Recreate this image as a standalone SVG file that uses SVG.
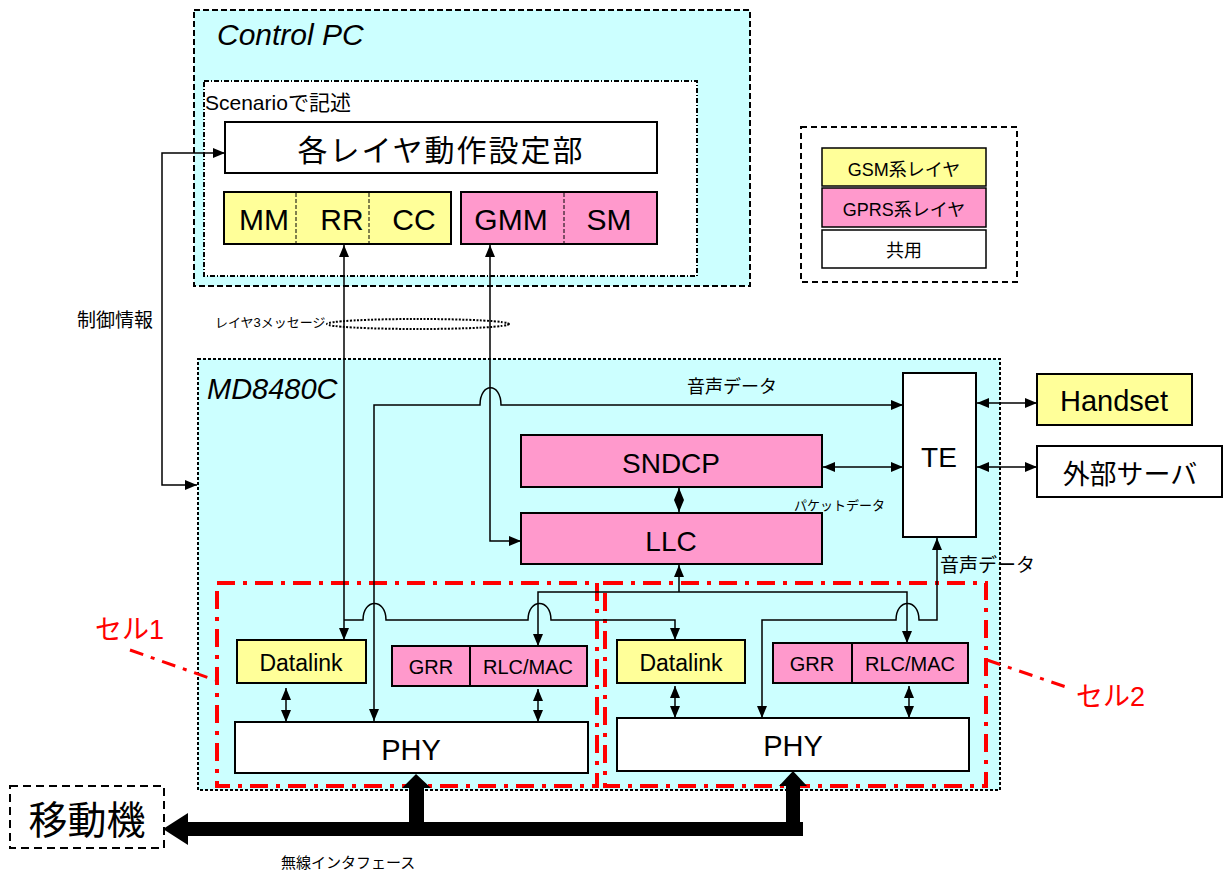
<svg xmlns="http://www.w3.org/2000/svg" width="1227" height="874" viewBox="0 0 1227 874">
<style>
text{font-family:"Liberation Sans","Noto Sans CJK JP",sans-serif;fill:#000}
.c{text-anchor:middle}
.box{stroke:#000;stroke-width:2}
.y{fill:#ffff99}.p{fill:#ff99cc}.w{fill:#fff}.cy{fill:#ccffff}
.ln{fill:none;stroke:#000;stroke-width:1.5}
.red{fill:none;stroke:#ff0000;stroke-width:4;stroke-dasharray:18 8 4 8}
.redl{fill:none;stroke:#ff0000;stroke-width:3;stroke-dasharray:14 8 4 8}
.div{stroke:#000;stroke-width:1;stroke-dasharray:4 2}
</style>
<defs>
<marker id="ah" viewBox="0 0 12 12" refX="12" refY="6" markerWidth="12" markerHeight="12" markerUnits="userSpaceOnUse" orient="auto-start-reverse"><path d="M0,1 L12,6 L0,11 z" fill="#000"/></marker>
</defs>
<rect width="1227" height="874" fill="#fff"/>

<g id="control-pc">
<rect x="194" y="10" width="556" height="276" class="cy" stroke="#000" stroke-width="2" stroke-dasharray="6 3"/>
<text x="217" y="45" font-size="30" font-style="italic">Control PC</text>
</g>
<g id="scenario">
<rect x="204" y="81" width="493" height="195" fill="#fff" stroke="#000" stroke-width="2" stroke-dasharray="5 2 1 2"/>
<text x="205" y="110" font-size="21">Scenarioで記述</text>
</g>
<g id="layer-setting">
<rect x="225" y="122" width="432" height="51" class="box w"/>
<text x="441" y="161" font-size="30" class="c" letter-spacing="2">各レイヤ動作設定部</text>
</g>
<g id="gsm-l3">
<rect x="224" y="192" width="227" height="52" class="box y"/>
<line x1="296" y1="193" x2="296" y2="243" class="div"/>
<line x1="369" y1="193" x2="369" y2="243" class="div"/>
<text x="264" y="230" font-size="30" class="c">MM</text>
<text x="342" y="230" font-size="30" class="c">RR</text>
<text x="414" y="230" font-size="30" class="c">CC</text>
</g>
<g id="gprs-l3">
<rect x="461" y="192" width="196" height="52" class="box p"/>
<line x1="564" y1="193" x2="564" y2="243" class="div"/>
<text x="511" y="230" font-size="30" class="c">GMM</text>
<text x="609" y="230" font-size="30" class="c">SM</text>
</g>

<g id="legend">
<rect x="801" y="127" width="216" height="155" fill="#fff" stroke="#000" stroke-width="2" stroke-dasharray="6 4"/>
<rect x="822" y="148" width="164" height="38" class="y" stroke="#000" stroke-width="1.5"/>
<text x="904" y="176" font-size="18" class="c">GSM系レイヤ</text>
<rect x="822" y="188" width="164" height="39" class="p" stroke="#000" stroke-width="1.5"/>
<text x="904" y="216" font-size="18" class="c">GPRS系レイヤ</text>
<rect x="822" y="230" width="164" height="38" class="w" stroke="#000" stroke-width="1.5"/>
<text x="904" y="257" font-size="18" class="c">共用</text>
</g>

<g id="md8480c">
<rect x="198" y="359" width="802" height="431" class="cy" stroke="#000" stroke-width="2" stroke-dasharray="3 2"/>
<text x="207" y="399" font-size="29" font-style="italic">MD8480C</text>
</g>

<g id="cell1">
<rect x="217" y="583" width="380" height="203" class="red"/>
<text x="95" y="639" font-size="27" style="fill:#ff0000">セル1</text>
<line x1="130" y1="650" x2="215" y2="680" class="redl"/>
</g>
<g id="cell2">
<rect x="605" y="583" width="381" height="203" class="red"/>
<text x="1076" y="706" font-size="27" style="fill:#ff0000">セル2</text>
<line x1="987" y1="660" x2="1072" y2="689" class="redl"/>
</g>

<g id="te">
<rect x="903" y="373" width="73" height="164" class="box w"/>
<text x="939" y="467" font-size="28" class="c">TE</text>
</g>
<g id="handset">
<rect x="1037" y="374" width="155" height="51" class="box y"/>
<text x="1114" y="411" font-size="29" class="c">Handset</text>
</g>
<g id="ext-server">
<rect x="1037" y="446" width="185" height="51" class="box w"/>
<text x="1130" y="484" font-size="27" class="c">外部サーバ</text>
</g>
<g id="sndcp">
<rect x="521" y="435" width="301" height="52" class="box p"/>
<text x="671" y="473" font-size="28" class="c">SNDCP</text>
</g>
<g id="llc">
<rect x="521" y="513" width="301" height="51" class="box p"/>
<text x="671" y="551" font-size="28" class="c">LLC</text>
</g>

<g id="datalink1">
<rect x="237" y="640" width="129" height="43" class="box y"/>
<text x="301" y="671" font-size="23" class="c">Datalink</text>
</g>
<g id="grr-rlc1">
<rect x="392" y="646" width="195" height="40" class="box p"/>
<line x1="470" y1="646" x2="470" y2="686" stroke="#000" stroke-width="2"/>
<text x="431" y="674" font-size="20" class="c">GRR</text>
<text x="528" y="674" font-size="20" class="c">RLC/MAC</text>
</g>
<g id="phy1">
<rect x="235" y="722" width="353" height="51" class="box w"/>
<text x="411" y="760" font-size="29" class="c">PHY</text>
</g>
<g id="datalink2">
<rect x="617" y="640" width="128" height="43" class="box y"/>
<text x="681" y="671" font-size="23" class="c">Datalink</text>
</g>
<g id="grr-rlc2">
<rect x="773" y="643" width="195" height="40" class="box p"/>
<line x1="852" y1="643" x2="852" y2="683" stroke="#000" stroke-width="2"/>
<text x="812" y="671" font-size="20" class="c">GRR</text>
<text x="910" y="671" font-size="20" class="c">RLC/MAC</text>
</g>
<g id="phy2">
<rect x="617" y="718" width="352" height="53" class="box w"/>
<text x="793" y="756" font-size="29" class="c">PHY</text>
</g>

<g id="mobile">
<rect x="10" y="786" width="154" height="62" fill="#fff" stroke="#000" stroke-width="2" stroke-dasharray="8 5"/>
<text x="87" y="834" font-size="39" class="c">移動機</text>
</g>

<g id="connectors">
<path class="ln" d="M225,153 H162 V485 H197" marker-start="url(#ah)" marker-end="url(#ah)"/>
<text x="77" y="327" font-size="19">制御情報</text>
<text x="215" y="327" font-size="13">レイヤ3メッセージ</text>
<ellipse cx="418" cy="324" rx="91" ry="5" fill="none" stroke="#000" stroke-width="2" stroke-dasharray="2 1.5"/>
<path class="ln" d="M344,245 V640" marker-start="url(#ah)" marker-end="url(#ah)"/>
<path class="ln" d="M490,245 V541 H521" marker-start="url(#ah)" marker-end="url(#ah)"/>
<path class="ln" d="M374,721 V405 H480 C480,382 501,382 501,405 H903" marker-start="url(#ah)" marker-end="url(#ah)"/>
<text x="687" y="393" font-size="18">音声データ</text>
<path class="ln" d="M823,467 H903" marker-start="url(#ah)" marker-end="url(#ah)"/>
<text x="794" y="510" font-size="13">パケットデータ</text>
<path class="ln" d="M977,403 H1037" marker-start="url(#ah)" marker-end="url(#ah)"/>
<path class="ln" d="M977,467 H1037" marker-start="url(#ah)" marker-end="url(#ah)"/>
<path class="ln" d="M679,488 V512" marker-start="url(#ah)" marker-end="url(#ah)"/>
<path class="ln" d="M679,592 V565" marker-end="url(#ah)"/>
<path class="ln" d="M538,646 V592 H907 V643" marker-start="url(#ah)" marker-end="url(#ah)"/>
<path class="ln" d="M344,620 H363 C363,598 386,598 386,620 H528 C528,598 551,598 551,620 H675 V640" marker-end="url(#ah)"/>
<path class="ln" d="M937,538 V620 H919 C919,598 896,598 896,620 H762 V718" marker-start="url(#ah)" marker-end="url(#ah)"/>
<text x="940" y="572" font-size="19">音声データ</text>
<path class="ln" d="M286,688 V722" marker-start="url(#ah)" marker-end="url(#ah)"/>
<path class="ln" d="M538,689 V722" marker-start="url(#ah)" marker-end="url(#ah)"/>
<path class="ln" d="M675,686 V718" marker-start="url(#ah)" marker-end="url(#ah)"/>
<path class="ln" d="M909,686 V718" marker-start="url(#ah)" marker-end="url(#ah)"/>
<path d="M803,822 H188 V813 L163,829 L188,845 V836 H803 Z" fill="#000"/>
<path d="M409,822 V788 H402 L416,774 L431,788 H424 V822 Z" fill="#000"/>
<path d="M786,822 V786 H779 L793,771 L807,786 H800 V822 Z" fill="#000"/>
<text x="281" y="868" font-size="15">無線インタフェース</text>
</g>
</svg>
